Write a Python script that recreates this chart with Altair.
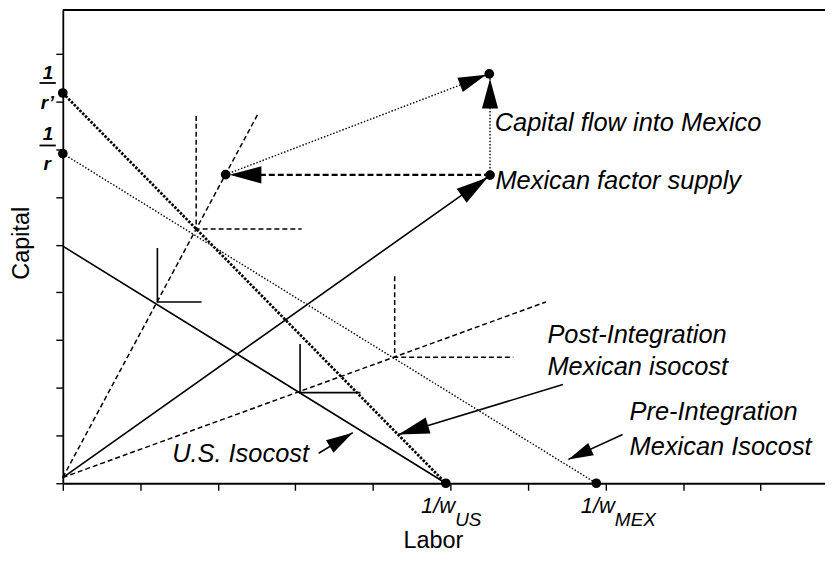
import math
import altair as alt
import pandas as pd

# ---------------- axis frame (data units) ----------------
XMAX, YMAX = 9.83, 9.92
W, H = 765, 475
PXX, PXY = W / XMAX, H / YMAX
tick_vals = list(range(10))

# ---------------- marked points ----------------
point_names = ["1/r'", "1/r", "1/w_US", "1/w_MEX", "A", "S", "T"]
point_x = [0.0, 0.0, 4.94, 6.88, 2.10, 5.51, 5.50]
point_y = [8.18, 6.91, 0.0, 0.0, 6.47, 6.46, 8.58]

# ---------------- lines (x list, y list) ----------------
us_isocost_x, us_isocost_y = [0.0, 4.94], [4.97, 0.0]
post_iso_x, post_iso_y = [0.0, 4.94], [8.18, 0.0]
pre_iso_x, pre_iso_y = [0.0, 6.88], [6.91, 0.0]
ray_steep_x, ray_steep_y = [0.0, 2.51], [0.12, 7.72]
ray_mid_x, ray_mid_y = [0.0, 5.51], [0.12, 6.46]
ray_flat_x, ray_flat_y = [0.0, 6.23], [0.12, 3.80]
iq_us1_x, iq_us1_y = [1.22, 1.22, 1.79], [4.93, 3.80, 3.80]
iq_us2_x, iq_us2_y = [3.06, 3.06, 3.84], [2.92, 1.90, 1.90]
iq_mx1_x, iq_mx1_y = [1.72, 1.72, 3.08], [7.70, 5.33, 5.33]
iq_mx2_x, iq_mx2_y = [4.28, 4.28, 5.81], [4.34, 2.64, 2.64]
shift_x, shift_y = [5.51, 2.10], [6.465, 6.465]
to_top_x, to_top_y = [2.10, 5.50], [6.47, 8.58]
flow_x, flow_y = [5.51, 5.51], [6.46, 8.58]
us_ptr_x, us_ptr_y = [3.30, 3.74], [0.63, 1.06]
post_ptr_x, post_ptr_y = [6.45, 4.33], [2.07, 1.02]
pre_ptr_x, pre_ptr_y = [7.22, 6.52], [1.02, 0.50]

line_defs = [
    ("us_isocost", "solid", us_isocost_x, us_isocost_y),
    ("ray_mid", "solid", ray_mid_x, ray_mid_y),
    ("iq_us1", "solid", iq_us1_x, iq_us1_y),
    ("iq_us2", "solid", iq_us2_x, iq_us2_y),
    ("us_ptr", "solid", us_ptr_x, us_ptr_y),
    ("post_ptr", "solid", post_ptr_x, post_ptr_y),
    ("pre_ptr", "solid", pre_ptr_x, pre_ptr_y),
    ("post_iso", "thickdot", post_iso_x, post_iso_y),
    ("pre_iso", "thindot", pre_iso_x, pre_iso_y),
    ("to_top", "thindot", to_top_x, to_top_y),
    ("flow", "thindot", flow_x, flow_y),
    ("ray_steep", "dash", ray_steep_x, ray_steep_y),
    ("ray_flat", "dash", ray_flat_x, ray_flat_y),
    ("iq_mx1", "dash", iq_mx1_x, iq_mx1_y),
    ("iq_mx2", "dash", iq_mx2_x, iq_mx2_y),
    ("shift", "heavydash", shift_x, shift_y),
]

# ---------------- arrowheads: tip, tail-direction point, length(px) ----------------
head_tip_x = [2.15, 5.46, 5.51, 5.48, 3.74, 4.33, 6.52]
head_tip_y = [6.465, 8.56, 8.48, 6.41, 1.06, 1.02, 0.50]
head_from_x = [5.51, 2.10, 5.51, 0.0, 3.30, 6.45, 7.22]
head_from_y = [6.465, 6.47, 6.46, 0.12, 0.63, 2.07, 1.02]
head_len = [32, 28, 30, 32, 27, 31, 25]

# ---------------- labels ----------------
ann_text = ["Capital flow into Mexico", "Mexican factor supply", "Post-Integration",
            "Mexican isocost", "Pre-Integration", "Mexican Isocost", "U.S. Isocost"]
ann_x = [5.57, 5.58, 6.25, 6.25, 7.31, 7.31, 1.41]
ann_y = [7.39, 6.16, 2.95, 2.26, 1.32, 0.60, 0.44]

wlab_text = ["1/w", "1/w"]
wlab_x = [5.06, 7.12]
wlab_y = [-0.63, -0.63]
sub_text = ["US", "MEX"]
sub_x = [5.06, 7.12]
sub_y = [-0.89, -0.89]

frac_text = ["1", "r\u2019", "1", "r"]
frac_x = [-0.19, -0.20, -0.19, -0.20]
frac_y = [8.48, 7.85, 7.20, 6.56]
bar_x1 = [-0.30, -0.30]
bar_x2 = [-0.09, -0.09]
bar_y = [8.39, 7.08]

title_text = ["Labor", "Capital"]
title_x = [4.78, -0.53]
title_y = [-1.21, 5.03]
title_angle = [0, 270]

FONT = "Liberation Sans"

# ---------------- build tables ----------------
rows = []
for name, style, xs_, ys_ in line_defs:
    for i, (xv, yv) in enumerate(zip(xs_, ys_)):
        rows.append({"id": name, "style": style, "o": i, "x": xv, "y": yv})
lines_df = pd.DataFrame(rows)

heads = []
for tx, ty, fx, fy, L in zip(head_tip_x, head_tip_y, head_from_x, head_from_y, head_len):
    ang = math.degrees(math.atan2((tx - fx) * PXX, (ty - fy) * PXY)) % 360
    heads.append({"x": tx, "y": ty, "angle": ang, "size": 4 * L * L})
heads_df = pd.DataFrame(heads)

points_df = pd.DataFrame({"name": point_names, "x": point_x, "y": point_y})

xs = alt.Scale(domain=[0, XMAX], nice=False, zero=False)
ys = alt.Scale(domain=[0, YMAX], nice=False, zero=False)
x_axis = alt.Axis(values=tick_vals, labels=False, ticks=True, tickSize=7, tickWidth=1.4,
                  domainWidth=1.8, domainColor="black", tickColor="black", grid=False, title=None)
y_axis = alt.Axis(values=tick_vals, labels=False, ticks=True, tickSize=7, tickWidth=1.4,
                  domainWidth=1.8, domainColor="black", tickColor="black", grid=False, title=None)
X = alt.X("x:Q", scale=xs, axis=x_axis)
Y = alt.Y("y:Q", scale=ys, axis=y_axis)

styles = {
    "solid": dict(strokeWidth=1.6),
    "thickdot": dict(strokeWidth=2.7, strokeDash=[2.5, 1.5]),
    "thindot": dict(strokeWidth=1.4, strokeDash=[1.5, 1.8]),
    "dash": dict(strokeWidth=1.5, strokeDash=[5, 3]),
    "heavydash": dict(strokeWidth=2.3, strokeDash=[6, 3]),
}

layers = []
for st, kw in styles.items():
    sub = lines_df[lines_df["style"] == st]
    layers.append(
        alt.Chart(sub).mark_line(color="black", strokeCap="butt", **kw)
        .encode(x=X, y=Y, detail="id:N", order="o:Q")
    )

# top frame line
frame_df = pd.DataFrame({"x": [0.0], "x2": [XMAX], "y": [YMAX]})
layers.append(alt.Chart(frame_df).mark_rule(color="black", strokeWidth=1.8)
              .encode(x=X, x2="x2:Q", y=Y))

# fraction bars
bars_df = pd.DataFrame({"x": bar_x1, "x2": bar_x2, "y": bar_y})
layers.append(alt.Chart(bars_df).mark_rule(color="black", strokeWidth=1.8)
              .encode(x=X, x2="x2:Q", y=Y))

# arrowheads
layers.append(
    alt.Chart(heads_df).mark_point(shape="M0,0L-0.27,1L0.27,1Z", filled=True,
                                   color="black", opacity=1, strokeWidth=0)
    .encode(x=X, y=Y, angle=alt.Angle("angle:Q", scale=None),
            size=alt.Size("size:Q", scale=None, legend=None))
)

# dots
layers.append(alt.Chart(points_df).mark_circle(size=95, color="black", opacity=1)
              .encode(x=X, y=Y))


def text_layer(texts, xs_, ys_, size, align, style="italic", baseline="alphabetic",
               angles=None, weight="normal"):
    d = {"t": texts, "x": xs_, "y": ys_}
    enc = dict(x=X, y=Y, text="t:N")
    if angles is not None:
        d["a"] = angles
        enc["angle"] = alt.Angle("a:Q", scale=None)
    return alt.Chart(pd.DataFrame(d)).mark_text(
        font=FONT, fontSize=size, fontStyle=style, fontWeight=weight, align=align,
        baseline=baseline, color="black"
    ).encode(**enc)


layers.append(text_layer(ann_text, ann_x, ann_y, 25.5, "left"))
layers.append(text_layer(wlab_text, wlab_x, wlab_y, 22, "right"))
layers.append(text_layer(sub_text, sub_x, sub_y, 19, "left"))
layers.append(text_layer(frac_text, frac_x, frac_y, 19, "center", weight="bold"))
layers.append(text_layer(title_text, title_x, title_y, 23.5, "center", style="normal",
                         baseline="middle", angles=title_angle))

chart = alt.layer(*layers).properties(
    width=W, height=H,
    autosize=alt.AutoSizeParams(type="none"),
    padding={"left": 55, "top": 1, "right": 0, "bottom": 68},
    background="white",
).configure_view(stroke=None)

chart.save("out.html", embed_options={"renderer": "svg", "actions": False})
